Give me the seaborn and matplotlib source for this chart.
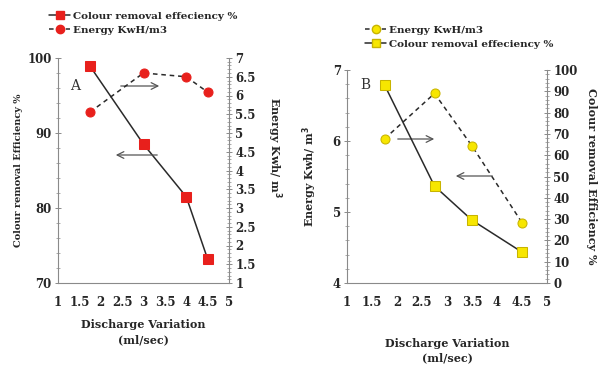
import matplotlib
matplotlib.use("Agg")
import matplotlib.pyplot as plt
import seaborn as sns
from matplotlib.lines import Line2D
from matplotlib.ticker import MultipleLocator

sns.set_theme(style="white")
plt.rcParams['font.family'] = ['DejaVu Serif']
plt.rcParams['font.weight'] = 'bold'

# Panel A data
a_flow_eff = [1.75, 3.0, 4.0, 4.5]
a_eff = [98.9, 88.5, 81.5, 73.2]
a_flow_en = [1.75, 3.0, 4.0, 4.5]
a_energy = [5.56, 6.6, 6.5, 6.09]

# Panel B data
b_flow_en = [1.75, 2.75, 3.5, 4.5]
b_energy = [6.03, 6.67, 5.93, 4.85]
b_flow_eff = [1.75, 2.75, 3.5, 4.5]
b_eff = [93.0, 45.5, 29.5, 14.5]

x_ticks = [1, 1.5, 2, 2.5, 3, 3.5, 4, 4.5, 5]
x_ticklabels = ["1", "1.5", "2", "2.5", "3", "3.5", "4", "4.5", "5"]

lbl_eff = "Colour removal effeciency %"
lbl_en = "Energy KwH/m3"
xlab = "Discharge Variation\n(ml/sec)"
ylab_eff = "Colour removal Efficiency %"
ylab_en = "Energy Kwh/ m$^\\mathbf{3}$"

RED = "#e8201c"
YEL = "#f7e600"
LINE = "#2a2a2a"
SP = "#8a8a8a"
FS = 7.5
TFS = 8.5

fig = plt.figure(figsize=(6.08, 3.66), dpi=100)
axA = fig.add_axes([58/608, 1-283/366, 171/608, 225/366])
axB = fig.add_axes([347/608, 1-283/366, 200/608, 213/366])


def style(ax, twin):
    for a in (ax, twin):
        a.set_facecolor("none")
        a.spines['top'].set_visible(False)
        for s in ('left', 'right', 'bottom'):
            a.spines[s].set_color(SP)
            a.spines[s].set_linewidth(0.8)
        a.tick_params(which='major', direction='inout', length=5, width=0.7,
                      color=SP, labelsize=TFS, pad=2)
        a.tick_params(which='minor', direction='inout', length=2.5, width=0.5, color=SP)
    ax.spines['right'].set_visible(False)
    twin.spines['left'].set_visible(False)
    twin.spines['bottom'].set_visible(False)
    ax.set_xlim(1, 5)
    ax.set_xticks(x_ticks)
    ax.set_xticklabels(x_ticklabels, fontweight='bold')
    ax.tick_params(axis='x', pad=7)
    for lab in ax.get_yticklabels() + twin.get_yticklabels():
        lab.set_fontweight('bold')


# ---- Panel A ----
twA = axA.twinx()
sns.lineplot(x=a_flow_eff, y=a_eff, ax=axA, color=LINE, lw=1.1, marker='s',
             markersize=6.5, markerfacecolor=RED, markeredgecolor=RED, legend=False)
sns.lineplot(x=a_flow_en, y=a_energy, ax=twA, color=LINE, lw=1.1, ls=(0, (3, 2.5)),
             marker='o', markersize=6.5, markerfacecolor=RED, markeredgecolor=RED,
             legend=False)
axA.set_ylim(70, 100)
axA.set_yticks([70, 80, 90, 100])
axA.yaxis.set_minor_locator(MultipleLocator(2))
axA.xaxis.set_minor_locator(MultipleLocator(0.1))
twA.set_ylim(1, 7)
twA.set_yticks([1, 1.5, 2, 2.5, 3, 3.5, 4, 4.5, 5, 5.5, 6, 6.5, 7])
twA.set_yticklabels(["1", "1.5", "2", "2.5", "3", "3.5", "4", "4.5", "5", "5.5", "6", "6.5", "7"])
twA.yaxis.set_minor_locator(MultipleLocator(0.1))
style(axA, twA)
axA.set_xlabel(xlab, fontsize=8, fontweight='bold', labelpad=7, linespacing=1.5)
axA.set_ylabel(ylab_eff, fontsize=7, fontweight='bold', labelpad=3)
twA.set_ylabel(ylab_en, fontsize=8, fontweight='bold', rotation=-90, va='center')
twA.yaxis.set_label_coords(1.265, 0.6)
axA.text(0.07, 0.86, "A", transform=axA.transAxes, fontsize=10, color="#333",
         fontweight='normal')
axA.annotate("", xy=(162/608, 1-86/366), xytext=(118/608, 1-86/366),
             xycoords='figure fraction',
             arrowprops=dict(arrowstyle='->', color="#555", lw=0.9))
axA.annotate("", xy=(113/608, 1-155/366), xytext=(160/608, 1-155/366),
             xycoords='figure fraction',
             arrowprops=dict(arrowstyle='->', color="#555", lw=0.9))

hA = [Line2D([], [], color=LINE, lw=1.1, marker='s', markersize=6,
             markerfacecolor=RED, markeredgecolor=RED),
      Line2D([], [], color=LINE, lw=1.1, ls=(0, (3, 2.5)), marker='o', markersize=6,
             markerfacecolor=RED, markeredgecolor=RED)]
fig.legend(hA, [lbl_eff, lbl_en], loc='upper left', bbox_to_anchor=(40/608, 1-2/366),
           frameon=False, handlelength=2.0, handletextpad=0.3,
           labelspacing=0.45, prop={'weight': 'bold', 'size': FS})

# ---- Panel B ----
twB = axB.twinx()
sns.lineplot(x=b_flow_en, y=b_energy, ax=axB, color=LINE, lw=1.1, ls=(0, (3, 2.5)),
             marker='o', markersize=6.5, markerfacecolor=YEL, markeredgecolor="#c8b400",
             legend=False)
sns.lineplot(x=b_flow_eff, y=b_eff, ax=twB, color=LINE, lw=1.1, marker='s',
             markersize=6.5, markerfacecolor=YEL, markeredgecolor="#c8b400", legend=False)
axB.set_ylim(4, 7)
axB.set_yticks([4, 5, 6, 7])
axB.yaxis.set_minor_locator(MultipleLocator(0.2))
axB.xaxis.set_minor_locator(MultipleLocator(0.25))
twB.set_ylim(0, 100)
twB.set_yticks(list(range(0, 101, 10)))
twB.yaxis.set_minor_locator(MultipleLocator(2))
style(axB, twB)
axB.set_xlabel(xlab, fontsize=8, fontweight='bold', labelpad=21, linespacing=1.3)
axB.set_ylabel(ylab_en, fontsize=8, fontweight='bold', labelpad=10)
twB.set_ylabel(ylab_eff, fontsize=8, fontweight='bold', rotation=-90, labelpad=14)
axB.text(0.065, 0.91, "B", transform=axB.transAxes, fontsize=10, color="#333",
         fontweight='normal')
axB.annotate("", xy=(437/608, 1-139/366), xytext=(395/608, 1-139/366),
             xycoords='figure fraction',
             arrowprops=dict(arrowstyle='->', color="#555", lw=0.9))
axB.annotate("", xy=(453/608, 1-176/366), xytext=(495/608, 1-176/366),
             xycoords='figure fraction',
             arrowprops=dict(arrowstyle='->', color="#555", lw=0.9))

hB = [Line2D([], [], color=LINE, lw=1.1, ls=(0, (3, 2.5)), marker='o', markersize=6,
             markerfacecolor=YEL, markeredgecolor="#c8b400"),
      Line2D([], [], color=LINE, lw=1.1, marker='s', markersize=6,
             markerfacecolor=YEL, markeredgecolor="#c8b400")]
fig.legend(hB, [lbl_en, lbl_eff], loc='upper left', bbox_to_anchor=(356/608, 1-16/366),
           frameon=False, handlelength=2.0, handletextpad=0.3,
           labelspacing=0.45, prop={'weight': 'bold', 'size': FS})

fig.savefig("out.png", dpi=100)
